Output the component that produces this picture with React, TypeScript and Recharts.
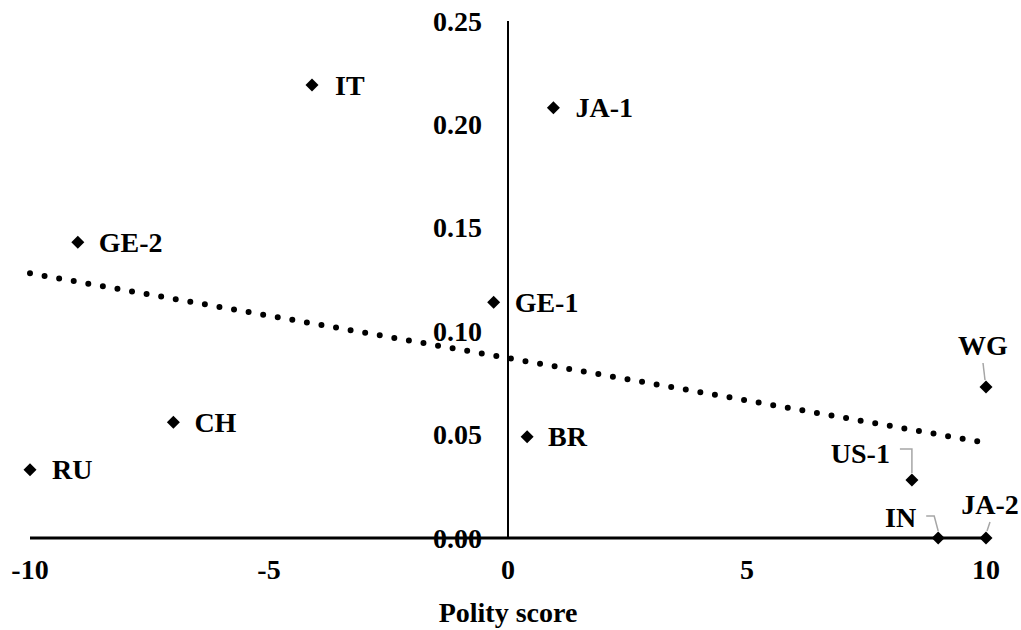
import { ScatterChart, Scatter, XAxis, YAxis, ReferenceLine, Label } from 'recharts';

// data
const names = ['IT', 'JA-1', 'GE-2', 'GE-1', 'BR', 'RU', 'CH', 'WG', 'US-1', 'IN', 'JA-2'];
const polity = [-4.1, 0.95, -9, -0.3, 0.4, -10, -7, 10, 8.45, 9, 10];
const share = [0.219, 0.208, 0.143, 0.114, 0.049, 0.033, 0.056, 0.073, 0.028, 0, 0];
const xTicks = [-10, -5, 0, 5, 10];
const yTicks = [0, 0.05, 0.1, 0.15, 0.2, 0.25];
const trendX = [-10, 10];
const trendY = [0.128, 0.046];

const points = names.map((name, i) => ({ name, x: polity[i], y: share[i] }));
const trend = trendX.map((x, i) => ({ x, y: trendY[i] }));
const yTickPoints = yTicks.map((y) => ({ x: 0, y }));

const font = {
  fontFamily: '"Liberation Serif", "Times New Roman", serif',
  fontSize: 28,
  fontWeight: 'bold' as const,
  fill: '#000',
};

// label placement relative to each marker
type Layout = { dx: number; dy: number; anchor: 'start' | 'middle' | 'end'; leader?: number[][] };
const labelLayout: Record<string, Layout> = {
  IT: { dx: 23, dy: 0, anchor: 'start' },
  'JA-1': { dx: 22, dy: 0, anchor: 'start' },
  'GE-2': { dx: 21, dy: 0, anchor: 'start' },
  'GE-1': { dx: 21, dy: 0, anchor: 'start' },
  BR: { dx: 21, dy: 0, anchor: 'start' },
  RU: { dx: 22, dy: 0, anchor: 'start' },
  CH: { dx: 21, dy: 0, anchor: 'start' },
  WG: { dx: -3, dy: -42, anchor: 'middle', leader: [[-3, -24], [-1, -7]] },
  'US-1': { dx: -22, dy: -27, anchor: 'end', leader: [[-12, -31], [0, -31], [0, -7]] },
  IN: { dx: -22, dy: -21, anchor: 'end', leader: [[-12, -22], [-4, -22], [0, -7]] },
  'JA-2': { dx: 4, dy: -34, anchor: 'middle', leader: [[4, -16], [1, -7]] },
};

const PointShape = (props: any) => {
  const { cx, cy, payload } = props;
  const l = labelLayout[payload.name];
  return (
    <g>
      {l.leader && (
        <polyline
          points={l.leader.map(([a, b]) => `${cx + a},${cy + b}`).join(' ')}
          fill="none"
          stroke="#a6a6a6"
          strokeWidth={1.5}
        />
      )}
      <path d={`M${cx},${cy - 6.5}L${cx + 6.5},${cy}L${cx},${cy + 6.5}L${cx - 6.5},${cy}Z`} fill="#000" />
      <text x={cx + l.dx} y={cy + l.dy} dy="0.34em" textAnchor={l.anchor} style={font}>
        {payload.name}
      </text>
    </g>
  );
};

const YTickShape = (props: any) => {
  const { cx, cy, payload } = props;
  return (
    <text x={cx - 26} y={cy} dy="0.34em" textAnchor="end" style={font}>
      {payload.y.toFixed(2)}
    </text>
  );
};

export default function App() {
  return (
    <div style={{ position: 'absolute', left: 0, top: 0, background: '#fff' }}>
      <ScatterChart width={1021} height={630} margin={{ top: 21, right: 35, bottom: 0, left: 30 }}>
        <XAxis
          type="number"
          dataKey="x"
          domain={[-10, 10]}
          ticks={xTicks}
          height={92}
          tickSize={0}
          tickMargin={21}
          tickLine={false}
          axisLine={{ stroke: '#000', strokeWidth: 3 }}
          tick={font}
        >
          <Label value="Polity score" position="insideBottom" offset={8} style={font} />
        </XAxis>
        <YAxis type="number" dataKey="y" domain={[0, 0.25]} hide />
        <ReferenceLine x={0} stroke="#000" strokeWidth={2} />
        <Scatter data={yTickPoints} shape={YTickShape} isAnimationActive={false} />
        <Scatter
          data={trend}
          line={{ stroke: '#000', strokeWidth: 6, strokeDasharray: '0 14.8', strokeLinecap: 'round' }}
          shape={() => <g />}
          isAnimationActive={false}
        />
        <Scatter data={points} shape={PointShape} isAnimationActive={false} />
      </ScatterChart>
    </div>
  );
}
